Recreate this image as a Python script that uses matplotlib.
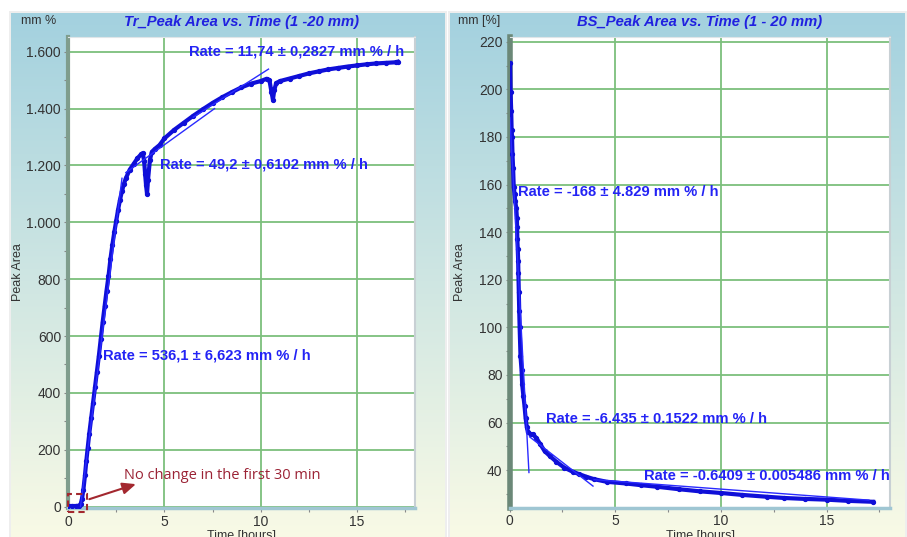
import matplotlib
matplotlib.use("Agg")
import matplotlib.pyplot as plt
import numpy as np
from matplotlib.patches import Rectangle
from matplotlib.ticker import FuncFormatter, MultipleLocator

plt.rcParams['font.family'] = ['Liberation Sans', 'DejaVu Sans']

# ---- data ----
tr_time = [0.0, 0.2, 0.4, 0.55, 0.65, 0.72, 0.8, 0.88, 0.95, 1.02, 1.1, 1.2, 1.3,
           1.4, 1.5, 1.6, 1.7, 1.8, 1.9, 2.0, 2.1, 2.2, 2.3, 2.4, 2.5, 2.6, 2.7,
           2.8, 2.9, 3.0, 3.2, 3.4, 3.6, 3.8, 3.88, 3.95, 4.0, 4.05, 4.1, 4.15,
           4.25, 4.35, 4.5, 4.75, 5.0, 5.5, 6.0, 6.5, 7.0, 7.5, 8.0, 8.5, 9.0,
           9.5, 10.0, 10.3, 10.45, 10.55, 10.63, 10.7, 10.8, 11.0, 11.5, 12.0,
           12.5, 13.0, 13.5, 14.0, 14.5, 15.0, 15.5, 16.0, 16.5, 17.0, 17.1]
tr_area = [2, 2, 2, 3, 8, 25, 60, 110, 160, 205, 255, 310, 365,
           420, 475, 530, 590, 650, 705, 760, 810, 870, 920, 965, 1005, 1045, 1080,
           1110, 1135, 1155, 1185, 1205, 1225, 1240, 1243, 1215, 1170, 1130, 1100, 1150,
           1220, 1248, 1258, 1272, 1295, 1325, 1350, 1375, 1398, 1420, 1440, 1458, 1475,
           1488, 1497, 1505, 1500, 1460, 1432, 1465, 1490, 1497, 1506, 1515,
           1524, 1531, 1538, 1543, 1548, 1552, 1556, 1559, 1561, 1563, 1565]

bs_time = [0.03, 0.05, 0.08, 0.1, 0.12, 0.14, 0.17, 0.2, 0.24, 0.27, 0.32, 0.35,
           0.36, 0.37, 0.39, 0.41, 0.42, 0.44, 0.46, 0.48, 0.52, 0.57, 0.6, 0.66,
           0.71, 0.76, 0.82, 0.87, 1.0, 1.11, 1.27, 1.45, 1.66, 1.9, 2.22, 2.6, 3.0,
           3.3, 3.64, 4.0, 4.6, 5.5, 6.2, 7.0, 8.0, 9.0, 10.0, 11.0, 12.2, 13.0,
           14.0, 15.0, 16.0, 17.2]
bs_area = [211, 199, 191, 183, 180, 173, 167, 159, 156, 153, 150, 146,
           142, 137, 133, 128, 123, 115, 107, 100, 88, 82, 76, 71,
           67, 62, 58, 56, 55, 55, 53.5, 51, 48, 46, 43.5, 41, 39.3,
           38.3, 37.2, 36.2, 35.1, 34.4, 33.7, 33, 32, 31.1, 30.4, 29.6, 28.8, 28.3,
           27.9, 27.6, 27.1, 26.7]

# fitted segments (start, end)
tr_fit_x = [[0.65, 2.8], [3.0, 7.6], [6.5, 10.4]]
tr_fit_y = [[0, 1155], [1175, 1400], [1370, 1539]]
bs_fit_x = [[0.02, 0.92], [0.95, 3.95], [4.0, 17.0]]
bs_fit_y = [[188, 39], [54, 33.3], [36.0, 27.4]]

tr_labels = ["Rate = 11,74 ± 0,2827 mm % / h", "Rate = 49,2 ± 0,6102 mm % / h",
             "Rate = 536,1 ± 6,623 mm % / h"]
tr_label_pos = [(6.26, 1600), (4.75, 1205), (1.83, 533)]
bs_labels = ["Rate = -168 ± 4.829 mm % / h", "Rate = -6.435 ± 0.1522 mm % / h",
             "Rate = -0.6409 ± 0.005486 mm % / h"]
bs_label_pos = [(0.38, 156.8), (1.71, 61.5), (6.36, 37.7)]

W, H = 907, 537
fig = plt.figure(figsize=(W / 100, H / 100), dpi=100)
fig.patch.set_facecolor('white')

def px(x0, y0, x1, y1):
    return [x0 / W, 1 - y1 / H, (x1 - x0) / W, (y1 - y0) / H]

# gradient panel backgrounds
grad = np.linspace(0, 1, 256).reshape(-1, 1)
top = np.array([0.64, 0.82, 0.875])
bot = np.array([0.975, 0.98, 0.90])
img = top + (bot - top) * grad[:, :, None]
for box in [px(9, 11, 447, 537), px(448, 11, 907, 537)]:
    sh = fig.add_axes(box, zorder=-3)
    sh.axis('off')
    sh.add_patch(Rectangle((0, 0), 1, 1, color='#eeeeee', transform=sh.transAxes))
for box in [px(11, 13, 445, 537), px(450, 13, 905, 537)]:
    bg = fig.add_axes(box, zorder=-2)
    bg.imshow(img, aspect='auto', extent=[0, 1, 0, 1])
    bg.axis('off')

blue = '#0f0fd8'
txt_blue = '#2323f5'
grid_green = '#7cbf7c'

ax1 = fig.add_axes(px(68, 37, 415, 508))
ax2 = fig.add_axes(px(509.5, 37, 890, 507.5))

for ax in (ax1, ax2):
    ax.set_facecolor('white')
    ax.set_xlim(0, 18)
    ax.xaxis.set_major_locator(MultipleLocator(5))
    ax.xaxis.set_minor_locator(MultipleLocator(2.5))
    ax.grid(True, which='major', color=grid_green, lw=1.3)
    ax.set_axisbelow(True)
    ax.tick_params(which='both', direction='out', colors='#888888', labelcolor='#333333',
                   labelsize=10, length=3, width=0.8, pad=2)
    ax.spines['top'].set_color('#dfe5e8')
    ax.spines['right'].set_color('#c8d0d4')
    ax.spines['right'].set_linewidth(1.5)
    ax.spines['bottom'].set_color('#9fc6d3')
    ax.spines['bottom'].set_linewidth(2.5)

ax1.spines['left'].set_color('#7f9d8d')
ax1.spines['left'].set_linewidth(3)
ax2.spines['left'].set_color('#6b8878')
ax2.spines['left'].set_linewidth(4)

# left panel
ax1.set_ylim(-5, 1652)
ax1.yaxis.set_major_locator(MultipleLocator(200))
ax1.yaxis.set_minor_locator(MultipleLocator(100))
ax1.yaxis.set_major_formatter(FuncFormatter(lambda v, p: f"{int(v):,}".replace(',', '.')))
ax1.plot(tr_time, tr_area, color=blue, lw=3, marker='o', ms=2.8, mec=blue, zorder=3)
for fx, fy in zip(tr_fit_x, tr_fit_y):
    ax1.plot(fx, fy, color='#2a2aff', lw=1, zorder=4)
for s, (lx, ly) in zip(tr_labels, tr_label_pos):
    ax1.text(lx, ly, s, color=txt_blue, fontsize=10.6, fontweight='bold', ha='left', va='center', zorder=5)

ax1.add_patch(Rectangle((0, -18), 0.97, 63, fill=False, ls=(0, (3, 2)), lw=1.5,
                        ec='#a3282f', clip_on=False, zorder=6))
ax1.annotate('', xy=(3.66, 82), xytext=(0.97, 23),
             arrowprops=dict(arrowstyle='-|>,head_width=0.35,head_length=0.8', color='#a3282f', lw=1.5),
             annotation_clip=False, zorder=6)
ax1.text(2.92, 108, "No change in the first 30 min", color='#9b2335', fontsize=10.5,
         family=['Open Sans', 'DejaVu Sans'], ha='left', va='center', zorder=6)

# right panel
ax2.set_ylim(24.3, 222)
ax2.yaxis.set_major_locator(MultipleLocator(20))
ax2.yaxis.set_minor_locator(MultipleLocator(10))
ax2.plot(bs_time, bs_area, color=blue, lw=3, marker='o', ms=2.8, mec=blue, zorder=3)
for fx, fy in zip(bs_fit_x, bs_fit_y):
    ax2.plot(fx, fy, color='#2a2aff', lw=1, zorder=4)
for s, (lx, ly) in zip(bs_labels, bs_label_pos):
    ax2.text(lx, ly, s, color=txt_blue, fontsize=10.6, fontweight='bold', ha='left', va='center', zorder=5)

# titles, units and axis labels
fig.text(241.5 / W, 1 - 22 / H, "Tr_Peak Area vs. Time (1 -20 mm)", color='#2020e0',
         fontsize=10.6, fontweight='bold', fontstyle='italic', ha='center', va='center')
fig.text(700 / W, 1 - 22 / H, "BS_Peak Area vs. Time (1 - 20 mm)", color='#2020e0',
         fontsize=10.6, fontweight='bold', fontstyle='italic', ha='center', va='center')
fig.text(21 / W, 1 - 21 / H, "mm %", color='#333333', fontsize=9, ha='left', va='center')
fig.text(458 / W, 1 - 21 / H, "mm [%]", color='#333333', fontsize=9, ha='left', va='center')
fig.text(18 / W, 1 - 272 / H, "Peak Area", color='#333333', fontsize=9, rotation=90,
         ha='center', va='center')
fig.text(460 / W, 1 - 272 / H, "Peak Area", color='#333333', fontsize=9, rotation=90,
         ha='center', va='center')
fig.text(241.5 / W, 1 - 530 / H, "Time [hours]", color='#333333', fontsize=9, ha='center', va='top')
fig.text(700 / W, 1 - 530 / H, "Time [hours]", color='#333333', fontsize=9, ha='center', va='top')

fig.savefig("out.png", dpi=100)
